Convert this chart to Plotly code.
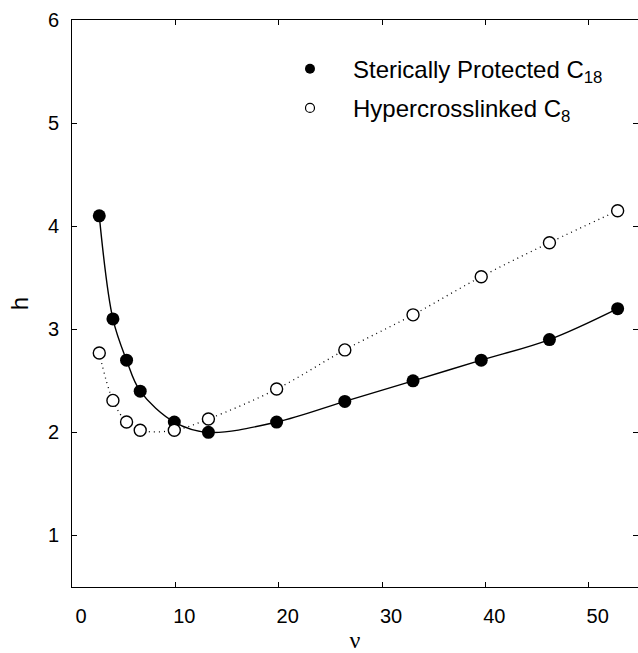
import plotly.graph_objects as go

# Data
nu = [2.64, 3.96, 5.28, 6.6, 9.9, 13.2, 19.8, 26.4, 33.0, 39.6, 46.2, 52.8]
h_c18 = [4.10, 3.10, 2.70, 2.40, 2.10, 2.00, 2.10, 2.30, 2.50, 2.70, 2.90, 3.20]
h_c8 = [2.77, 2.31, 2.10, 2.02, 2.02, 2.13, 2.42, 2.80, 3.14, 3.51, 3.84, 4.15]

name_c18 = "Sterically Protected C<sub>18</sub>"
name_c8 = "Hypercrosslinked C<sub>8</sub>"

x_ticks = [0, 10, 20, 30, 40, 50]
y_ticks = [1, 2, 3, 4, 5, 6]

fig = go.Figure()

# fitted curves
fig.add_trace(go.Scatter(x=nu, y=h_c18, mode="lines", line=dict(color="black", width=1.4, shape="spline", smoothing=1.0),
                         showlegend=False, hoverinfo="skip"))
fig.add_trace(go.Scatter(x=nu, y=h_c8, mode="lines", line=dict(color="black", width=1.3, dash="1px,4px", shape="spline", smoothing=1.0),
                         showlegend=False, hoverinfo="skip"))

# data markers
fig.add_trace(go.Scatter(x=nu, y=h_c18, mode="markers", marker=dict(symbol="circle", size=13, color="black"),
                         showlegend=False))
fig.add_trace(go.Scatter(x=nu, y=h_c8, mode="markers",
                         marker=dict(symbol="circle", size=12, color="white", line=dict(color="black", width=1.4)),
                         showlegend=False))

# legend entries
fig.add_trace(go.Scatter(x=[None], y=[None], mode="markers", name=name_c18, legendgroup="a",
                         marker=dict(symbol="circle", size=10, color="black")))
fig.add_trace(go.Scatter(x=[None], y=[None], mode="markers", name=name_c8, legendgroup="b",
                         marker=dict(symbol="circle", size=9, color="white", line=dict(color="black", width=1.2))))

axis_common = dict(showgrid=False, zeroline=False, showline=True, linecolor="black", linewidth=1,
                   ticks="inside", ticklen=5, tickcolor="black", tickwidth=1, mirror="ticks",
                   tickfont=dict(family="Liberation Sans, Arial, sans-serif", size=20, color="black"))

fig.update_xaxes(range=[0, 54.77], tickvals=x_ticks, ticktext=[str(v) for v in x_ticks],
                 title=dict(text="ν", font=dict(family="Liberation Serif, serif", size=24, color="black"), standoff=10),
                 ticklabelshift=9, ticklabelstandoff=11, **axis_common)
fig.update_yaxes(range=[0.5, 6], tickvals=y_ticks, ticktext=[str(v) for v in y_ticks],
                 title=dict(text="h", font=dict(family="Liberation Sans, Arial, sans-serif", size=24, color="black"), standoff=12),
                 ticklabelstandoff=8, **axis_common)

fig.update_layout(
    width=638, height=653,
    margin=dict(l=72, r=0, t=20, b=66),
    paper_bgcolor="white", plot_bgcolor="white",
    showlegend=True,
    legend=dict(x=0.3445, y=0.953, xanchor="left", yanchor="top", bgcolor="rgba(0,0,0,0)",
                font=dict(family="Liberation Sans, Arial, sans-serif", size=24, color="black"),
                itemwidth=76, tracegroupgap=5),
)

fig.write_html("out.html")
